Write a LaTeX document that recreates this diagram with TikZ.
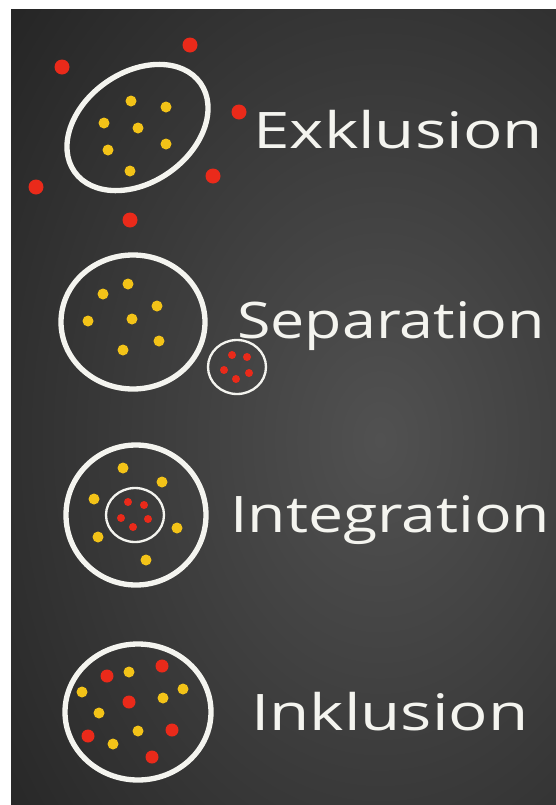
\documentclass[tikz,border=0pt]{standalone}
\usepackage{fontspec}
\setmainfont{Open Sans}
\usetikzlibrary{calc}
\definecolor{boarddark}{HTML}{191919}
\definecolor{boardlight}{HTML}{515151}
\definecolor{chalk}{HTML}{F4F4EF}
\definecolor{dotyellow}{HTML}{F3C318}
\definecolor{dotred}{HTML}{EA2A1A}
\tikzset{
  chalkline/.style = {draw=chalk, line width=0.16cm},
  thinchalk/.style = {draw=chalk, line width=0.07cm},
}

\begin{document}
\begin{tikzpicture}[
    x=0.03cm, y=-0.03cm,
    bigdot/.style  ={fill=dotyellow},
    outdot/.style  ={fill=dotred},
    word/.style    ={font=\fontsize{43}{50}\selectfont, text=chalk,
                     anchor=base west, inner sep=0pt}
  ]

  %% --- Page and chalkboard ---------------------------------------------
  \useasboundingbox[fill=white] (0,0) rectangle (556,805);
  \fill[boarddark] (11,9) rectangle (556,805);
  \begin{scope}
    \clip (11,9) rectangle (556,805);
    \shade[inner color=boardlight, outer color=boarddark]
      (380,440) ellipse [x radius=620, y radius=860];
  \end{scope}

  %% --- Exklusion: yellow inside, red dots kept outside -----------------
  \draw[chalkline] (137.5,127.5) ellipse [x radius=77, y radius=55, rotate=35];
  \foreach \p in {(131,101),(166,107),(104,123),(138,128),(108,150),(166,144),(130,171)}
      \fill[bigdot] \p circle [radius=5.5];
  \foreach \p in {(62,67),(190,45),(239,112),(213,176),(36,187),(130,220)}
      \fill[outdot] \p circle [radius=7.5];
  \node[word, xscale=1.30] (exkl) at (253,148) {Exklusion};

  %% --- Separation: red group in its own small circle -------------------
  \draw[chalkline] (133,322) ellipse [x radius=72, y radius=67];
  \foreach \p in {(128,284),(103,294),(157,306),(88,321),(132,319),(159,341),(123,350)}
      \fill[bigdot] \p circle [radius=5.5];
  \draw[thinchalk] (237,367) ellipse [x radius=29, y radius=27];
  \foreach \p in {(232,355),(247,357),(224,370),(249,373),(236,379)}
      \fill[outdot] \p circle [radius=4];
  \node[word, xscale=1.21] (sep) at (237,338) {Separation};

  %% --- Integration: small circle inside the big one ---------------------
  \draw[chalkline] (136,515) ellipse [x radius=70, y radius=70];
  \foreach \p in {(123,468),(162,482),(94,499),(177,528),(98,537),(146,560)}
      \fill[bigdot] \p circle [radius=5.5];
  \draw[thinchalk] (135,515) ellipse [x radius=29, y radius=27];
  \foreach \p in {(128,502),(144,505),(121,518),(148,519),(133,527)}
      \fill[outdot] \p circle [radius=4];
  \node[word, xscale=1.24] (integ) at (230,532) {Integration};

  %% --- Inklusion: all dots mixed in one circle --------------------------
  \draw[chalkline] (138,712) ellipse [x radius=73, y radius=68];
  \foreach \p in {(129,672),(82,692),(183,689),(163,698),(99,713),(138,731),(113,744)}
      \fill[bigdot] \p circle [radius=5.5];
  \foreach \p in {(107,676),(162,666),(129,702),(88,736),(172,730),(152,757)}
      \fill[outdot] \p circle [radius=6.5];
  \node[word, xscale=1.30] (inkl) at (251,730) {Inklusion};
\end{tikzpicture}
\end{document}
